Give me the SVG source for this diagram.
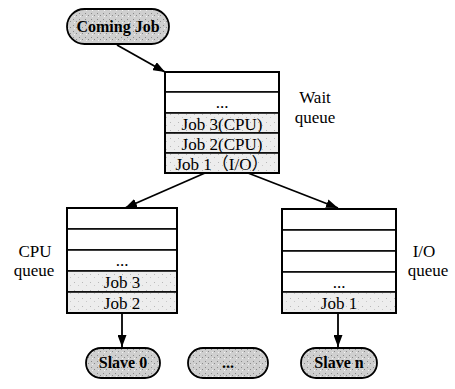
<svg xmlns="http://www.w3.org/2000/svg" width="455" height="389" viewBox="0 0 455 389">
<defs>
<marker id="ah" markerWidth="12" markerHeight="9" refX="12" refY="4.5" orient="auto" markerUnits="userSpaceOnUse">
<path d="M0,0 L12,4.5 L0,9 Z" fill="#000"/>
</marker>
<pattern id="stip" width="6" height="6" patternUnits="userSpaceOnUse">
<rect width="6" height="6" fill="#cfcfcf"/>
<rect x="1" y="1" width="1" height="1" fill="#8a8a8a"/>
<rect x="4" y="3" width="1" height="1" fill="#8a8a8a"/>
<rect x="2" y="4" width="1" height="1" fill="#f2f2f2"/>
</pattern>
<pattern id="lite" width="8" height="8" patternUnits="userSpaceOnUse">
<rect width="8" height="8" fill="#ededed"/>
<rect x="2" y="2" width="1" height="1" fill="#b8b8b8"/>
<rect x="6" y="5" width="1" height="1" fill="#c8c8c8"/>
</pattern>
</defs>
<style>
.pill{fill:url(#stip);stroke:#000;stroke-width:1.8}
.cell{fill:#fff;stroke:#000;stroke-width:1.5}
.job{fill:url(#lite);stroke:#000;stroke-width:1.5}
.outer{fill:none;stroke:#000;stroke-width:2}
.pt{font-family:"Liberation Serif","Times New Roman",serif;font-weight:bold;font-size:16px;text-anchor:middle;fill:#000}
.ct{font-family:"Liberation Serif","Noto Sans CJK SC",serif;font-size:17px;text-anchor:middle;fill:#000}
.lb{font-family:"Liberation Serif","Times New Roman",serif;font-size:17px;text-anchor:middle;fill:#000}
.conn{stroke:#000;stroke-width:1.8;fill:none;marker-end:url(#ah)}
</style>

<g id="coming-job">
<rect class="pill" x="67" y="9" width="102" height="35" rx="17.5"/>
<text class="pt" x="118" y="32">Coming Job</text>
</g>

<g id="wait-queue">
<rect class="cell" x="165" y="72" width="114" height="20"/>
<rect class="cell" x="165" y="92" width="114" height="21"/>
<text class="ct" x="222" y="108">...</text>
<rect class="job" x="165" y="113" width="114" height="20"/>
<text class="ct" x="222" y="130">Job 3(CPU)</text>
<rect class="job" x="165" y="133" width="114" height="20"/>
<text class="ct" x="222" y="150">Job 2(CPU)</text>
<rect class="job" x="165" y="153" width="114" height="20"/>
<text class="ct" x="222" y="170">Job 1（I/O）</text>
<rect class="outer" x="165" y="72" width="114" height="101"/>
<text class="lb" x="315" y="103">Wait</text>
<text class="lb" x="315" y="123">queue</text>
</g>

<g id="cpu-queue">
<rect class="cell" x="67" y="208" width="110" height="21"/>
<rect class="cell" x="67" y="229" width="110" height="21"/>
<rect class="cell" x="67" y="250" width="110" height="21"/>
<text class="ct" x="122" y="266">...</text>
<rect class="job" x="67" y="271" width="110" height="21"/>
<text class="ct" x="122" y="288">Job 3</text>
<rect class="job" x="67" y="292" width="110" height="21"/>
<text class="ct" x="122" y="309">Job 2</text>
<rect class="outer" x="67" y="208" width="110" height="105"/>
<text class="lb" x="35" y="257">CPU</text>
<text class="lb" x="34" y="276">queue</text>
</g>

<g id="io-queue">
<rect class="cell" x="282" y="209" width="114" height="21"/>
<rect class="cell" x="282" y="230" width="114" height="21"/>
<rect class="cell" x="282" y="251" width="114" height="21"/>
<rect class="cell" x="282" y="272" width="114" height="20"/>
<text class="ct" x="339" y="288">...</text>
<rect class="job" x="282" y="292" width="114" height="21"/>
<text class="ct" x="339" y="309">Job 1</text>
<rect class="outer" x="282" y="209" width="114" height="104"/>
<text class="lb" x="424" y="257">I/O</text>
<text class="lb" x="428" y="276">queue</text>
</g>

<g id="slave-0">
<rect class="pill" x="86" y="348" width="74" height="30" rx="15"/>
<text class="pt" x="123" y="368">Slave 0</text>
</g>

<g id="slave-dots">
<rect class="pill" x="188" y="348" width="80" height="30" rx="15"/>
<text class="pt" x="228" y="368">...</text>
</g>

<g id="slave-n">
<rect class="pill" x="301" y="348" width="76" height="30" rx="15"/>
<text class="pt" x="339" y="368">Slave n</text>
</g>

<g id="connectors">
<line class="conn" x1="117" y1="45" x2="165" y2="72"/>
<line class="conn" x1="205" y1="173" x2="125" y2="208"/>
<line class="conn" x1="248" y1="173" x2="338" y2="208"/>
<line class="conn" x1="122" y1="313" x2="122" y2="347"/>
<line class="conn" x1="338" y1="313" x2="338" y2="347"/>
</g>
</svg>
